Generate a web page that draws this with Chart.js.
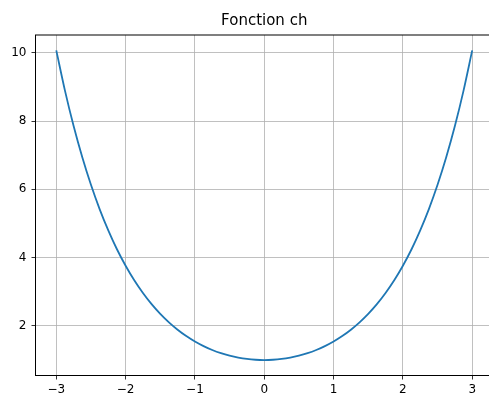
<!DOCTYPE html>
<html>
<head>
<meta charset="utf-8">
<script src="https://cdn.jsdelivr.net/npm/chart.js@4/dist/chart.umd.min.js"></script>
<style>
  html, body { margin: 0; padding: 0; background: #fff; overflow: hidden; }
  canvas { display: block; }
</style>
</head>
<body>
<canvas id="chChart" width="494" height="398"></canvas>
<script>
// valeurs
const xs = [-3, -2.875, -2.75, -2.625, -2.5, -2.375, -2.25, -2.125, -2, -1.875, -1.75, -1.625,
            -1.5, -1.375, -1.25, -1.125, -1, -0.875, -0.75, -0.625, -0.5, -0.375, -0.25, -0.125,
            0, 0.125, 0.25, 0.375, 0.5, 0.625, 0.75, 0.875, 1, 1.125, 1.25, 1.375,
            1.5, 1.625, 1.75, 1.875, 2, 2.125, 2.25, 2.375, 2.5, 2.625, 2.75, 2.875, 3];
const ys = [10.068, 8.892, 7.853, 6.939, 6.132, 5.422, 4.797, 4.245, 3.762, 3.337, 2.964, 2.637,
            2.352, 2.104, 1.888, 1.702, 1.543, 1.408, 1.295, 1.202, 1.128, 1.071, 1.031, 1.008,
            1.000, 1.008, 1.031, 1.071, 1.128, 1.202, 1.295, 1.408, 1.543, 1.702, 1.888, 2.104,
            2.352, 2.637, 2.964, 3.337, 3.762, 4.245, 4.797, 5.422, 6.132, 6.939, 7.853, 8.892, 10.068];
const xTicks = [-3, -2, -1, 0, 1, 2, 3];
const yTicks = [2, 4, 6, 8, 10];
const title = 'Fonction ch';

const fmt = v => String(v).replace('-', '\u2212');

const frameAndTitle = {
    id: 'frameAndTitle',
    afterDraw(chart) {
        const { ctx, chartArea: a } = chart;
        ctx.save();
        ctx.strokeStyle = '#000';
        ctx.lineWidth = 1;
        ctx.strokeRect(a.left, a.top, a.right - a.left, a.bottom - a.top);
        ctx.fillStyle = '#000';
        ctx.font = '15px "DejaVu Sans"';
        ctx.textAlign = 'center';
        ctx.textBaseline = 'middle';
        ctx.fillText(title, (a.left + a.right) / 2, 21);
        ctx.restore();
    }
};

new Chart(document.getElementById('chChart'), {
    type: 'scatter',
    data: {
        datasets: [{
            data: xs.map((x, i) => ({ x: x, y: ys[i] })),
            showLine: true,
            borderColor: '#1f77b4',
            borderWidth: 1.8,
            pointRadius: 0,
            cubicInterpolationMode: 'monotone',
            fill: false
        }]
    },
    options: {
        responsive: false,
        animation: false,
        layout: { padding: { top: 35, right: 1, left: 0, bottom: 0 } },
        plugins: {
            legend: { display: false },
            tooltip: { enabled: false }
        },
        scales: {
            x: {
                type: 'linear',
                min: -3.3,
                max: 3.3,
                afterBuildTicks: s => { s.ticks = xTicks.map(v => ({ value: v })); },
                afterFit: s => { s.height = 22.5; },
                grid: { color: '#b0b0b0', lineWidth: 0.8, tickColor: '#000', tickLength: 4 },
                border: { color: '#000', width: 1 },
                ticks: {
                    color: '#000',
                    padding: 3,
                    maxRotation: 0,
                    font: { family: 'DejaVu Sans', size: 12 },
                    callback: v => fmt(v)
                }
            },
            y: {
                min: 0.547,
                max: 10.52,
                afterBuildTicks: s => { s.ticks = yTicks.map(v => ({ value: v })); },
                afterFit: s => { s.width = 35.5; },
                grid: { color: '#b0b0b0', lineWidth: 0.8, tickColor: '#000', tickLength: 4 },
                border: { color: '#000', width: 1 },
                ticks: {
                    color: '#000',
                    padding: 5,
                    font: { family: 'DejaVu Sans', size: 12 },
                    callback: v => fmt(v)
                }
            }
        }
    },
    plugins: [frameAndTitle]
});
</script>
</body>
</html>
